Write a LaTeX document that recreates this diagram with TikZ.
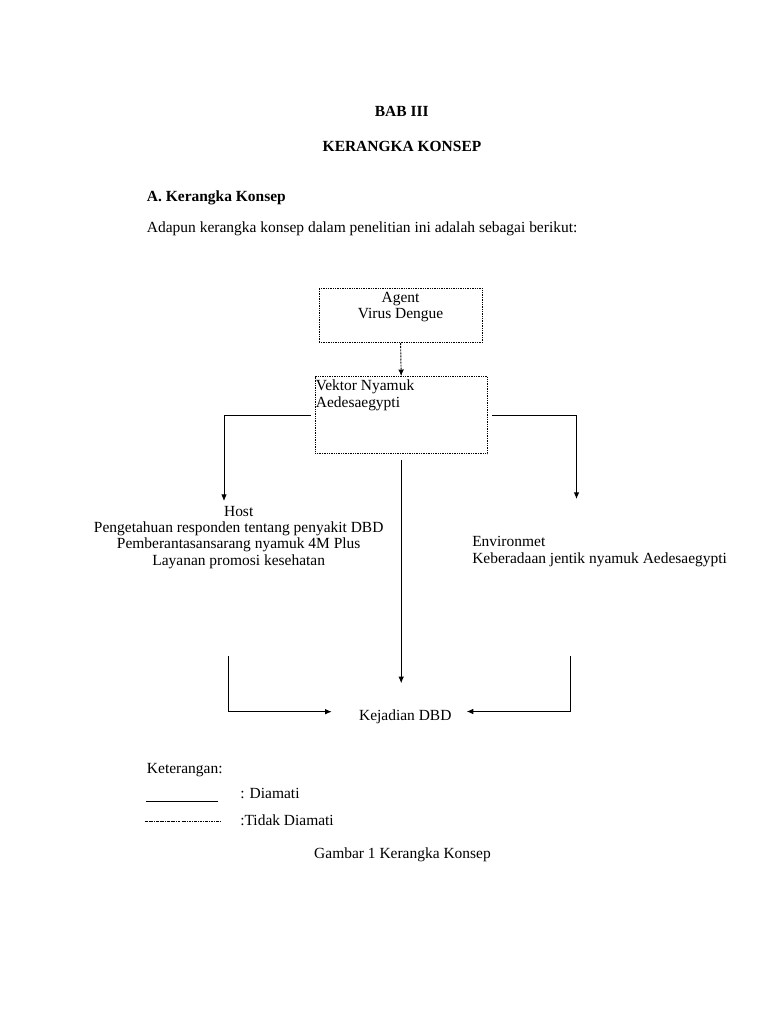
\documentclass[tikz,border=0pt]{standalone}
\usepackage{fontspec}
\setmainfont{Liberation Serif}
\usetikzlibrary{arrows.meta,positioning}
\newcommand{\pxunit}{0.75pt}
\newcommand{\txtsize}{\fontsize{11.6pt}{12.3pt}\selectfont}
\tikzset{
    boxsty/.style={draw,line width=0.7pt,dash pattern=on 0.6pt off 0.7pt,rectangle,inner sep=0pt},
    txtsty/.style={inner sep=0pt,font=\txtsize},
    ctrsty/.style={txtsty,align=center},
    lftsty/.style={txtsty,align=left},
    headsty/.style={inner sep=0pt,font=\txtsize\bfseries},
    linesty/.style={line width=0.7pt},
    arrsty/.style={linesty,->},
    dasharrsty/.style={linesty,->,dash pattern=on 1.5pt off 0.8pt},
    dashdotsty/.style={line width=0.5pt,dash pattern=on 2pt off 0.8pt on 0.5pt off 0.8pt},
}

\begin{document}
\begin{tikzpicture}[>={Latex[length=5pt,width=4.2pt]}, x=\pxunit, y=-\pxunit]
  \useasboundingbox[fill=white] (0,0) rectangle (768,1024);

  % heading
  \node[headsty,anchor=base] (bab) at (401.7,116) {BAB III};
  \node[headsty,anchor=base] (judul) at (402,151) {KERANGKA KONSEP};
  \node[headsty,anchor=base west] (subjudul) at (146.7,201) {A. Kerangka Konsep};
  \node[txtsty,anchor=base west] (intro) at (146.7,232.7) {Adapun kerangka konsep dalam penelitian ini adalah sebagai berikut:};

  % boxes
  \node[boxsty,minimum width=122.3pt,minimum height=40.8pt] (agent) at (400.6,315.5) {};
  \node[ctrsty,anchor=north,below=2.8pt of agent.north] (agenttxt) {Agent\\Virus Dengue};
  \node[boxsty,minimum width=129.2pt,minimum height=57.8pt] (vektor) at (401.2,415.2) {};
  \node[lftsty,anchor=north west,below right=2.6pt and 0.75pt of vektor.north west] (vektortxt) {Vektor Nyamuk\\Aedesaegypti};

  % texts
  \node[ctrsty,anchor=north] (host) at (238.7,505.7) {Host\\Pengetahuan responden tentang penyakit DBD\\Pemberantasansarang nyamuk 4M Plus\\Layanan promosi kesehatan};
  \node[lftsty,anchor=north west] (env) at (472,536.4) {Environmet\\Keberadaan jentik nyamuk Aedesaegypti};
  \node[txtsty,anchor=base] (kejadian) at (405.3,720) {Kejadian DBD};

  % connectors
  \coordinate (hostin) at (224,501);
  \coordinate (envin) at (576.5,499);
  \coordinate (kejin) at (vektor.south |- 0,683.3);
  \coordinate (hostout) at (228.3,656);
  \coordinate (kejleft) at (331.7,711.7);
  \coordinate (envout) at (570,656);
  \coordinate (kejright) at (466.7,711.5);
  \draw[dasharrsty] (agent.south) -- (vektor.north);
  \draw[arrsty] ([xshift=-3pt]vektor.west) -| (hostin);
  \draw[arrsty] ([xshift=3pt]vektor.east) -| (envin);
  \draw[arrsty] ([yshift=-4.5pt]vektor.south) -- (kejin);
  \draw[arrsty] (hostout) |- (kejleft);
  \draw[arrsty] (envout) |- (kejright);

  % legend
  \node[txtsty,anchor=base west] (ket) at (146.7,773.3) {Keterangan:};
  \coordinate (solidA) at (146,801.7);
  \coordinate (solidB) at (218.3,801.7);
  \coordinate (dotA) at (145,821.7);
  \coordinate (dotB) at (220,821.7);
  \draw[linesty] (solidA) -- (solidB);
  \draw[dashdotsty] (dotA) -- (dotB);
  \node[txtsty,anchor=base west] (diamati) at (240,798.3) {: Diamati};
  \node[txtsty,anchor=base west] (tdiamati) at (240,825) {:Tidak Diamati};
  \node[txtsty,anchor=base] (gambar) at (402.5,858) {Gambar 1 Kerangka Konsep};
\end{tikzpicture}
\end{document}
